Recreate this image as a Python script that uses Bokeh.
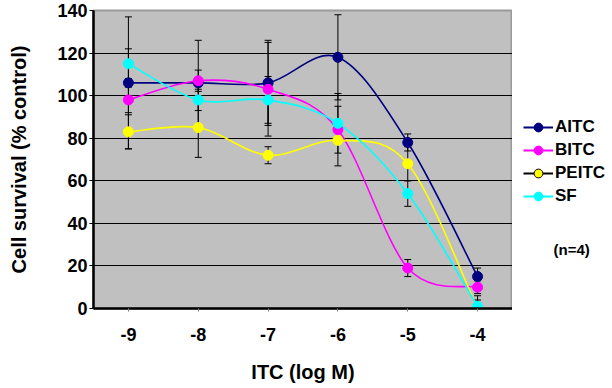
import numpy as np
from bokeh.plotting import figure
from bokeh.layouts import row
from bokeh.models import Legend, LegendItem, Label, FixedTicker, ColumnDataSource
from bokeh.embed import file_html
from bokeh.resources import INLINE

# ---- data ----
log_conc = [-9, -8, -7, -6, -5, -4]
tick_labels = ["-9", "-8", "-7", "-6", "-5", "-4"]
y_ticks = [0, 20, 40, 60, 80, 100, 120, 140]

aitc = [106, 106, 106, 118, 78, 15]
aitc_err = [31, 20, 20, 20, 4, 4]
bitc = [98, 107, 103, 84, 19, 10]
bitc_err = [6, 5, 22, 17, 4, 3]
peitc = [83, 85, 72, 79, 68, 0]
peitc_err = [8, 14, 4, 6, 8, 4]
sf = [115, 98, 98, 87, 54, 1]
sf_err = [7, 5, 11, 8, 6, 5]

series = [
    ("AITC", aitc, aitc_err, "#000080"),
    ("BITC", bitc, bitc_err, "#FF00FF"),
    ("PEITC", peitc, peitc_err, "#FFFF00"),
    ("SF", sf, sf_err, "#00FFFF"),
]
note = "(n=4)"

FONT = "Liberation Sans"

p = figure(width=512, height=388, x_range=(-9.5, -3.5), y_range=(0, 140),
           output_backend="svg", toolbar_location=None,
           min_border_left=93, min_border_right=0, min_border_top=10, min_border_bottom=80,
           background_fill_color="#C0C0C0", border_fill_color="white")

p.outline_line_color = "#9A9A9A"
p.outline_line_width = 2

p.xgrid.visible = False
p.ygrid.ticker = FixedTicker(ticks=y_ticks)
p.ygrid.grid_line_color = "black"
p.ygrid.grid_line_width = 1

p.xaxis.ticker = FixedTicker(ticks=log_conc)
p.xaxis.major_label_overrides = {v: t for v, t in zip(log_conc, tick_labels)}
p.yaxis.ticker = FixedTicker(ticks=y_ticks)

for ax in (p.xaxis[0], p.yaxis[0]):
    ax.axis_line_color = "black"
    ax.axis_line_width = 2.5
    ax.minor_tick_line_color = None
    ax.major_tick_in = 0
    ax.major_label_text_font = FONT
    ax.major_label_text_font_style = "bold"
    ax.major_label_text_font_size = "18px"
    ax.major_label_text_color = "black"
    ax.axis_label_text_font = FONT
    ax.axis_label_text_font_style = "bold"
    ax.axis_label_text_font_size = "20px"
    ax.axis_label_text_color = "black"

p.xaxis.major_tick_out = 3
p.xaxis.major_tick_line_color = "#808080"
p.xaxis.major_label_standoff = 16
p.xaxis.axis_label = "ITC (log M)"
p.xaxis.axis_label_standoff = 17

p.yaxis.major_tick_out = 4
p.yaxis.major_tick_line_color = "black"
p.yaxis.major_label_standoff = 2
p.yaxis.axis_label = "Cell survival (% control)"
p.yaxis.axis_label_standoff = 24


def bezier_source(xs, ys):
    x = np.array(xs, dtype=float)
    y = np.array(ys, dtype=float)
    xp = np.concatenate([[x[0]], x, [x[-1]]])
    yp = np.concatenate([[y[0]], y, [y[-1]]])
    n = len(x)
    d = {"x0": [], "y0": [], "x1": [], "y1": [], "cx0": [], "cy0": [], "cx1": [], "cy1": []}
    for i in range(n - 1):
        p0x, p0y = xp[i], yp[i]
        p1x, p1y = xp[i + 1], yp[i + 1]
        p2x, p2y = xp[i + 2], yp[i + 2]
        p3x, p3y = xp[i + 3], yp[i + 3]
        d["x0"].append(p1x); d["y0"].append(p1y)
        d["x1"].append(p2x); d["y1"].append(p2y)
        d["cx0"].append(p1x + (p2x - p0x) / 6); d["cy0"].append(p1y + (p2y - p0y) / 6)
        d["cx1"].append(p2x - (p3x - p1x) / 6); d["cy1"].append(p2y - (p3y - p1y) / 6)
    return ColumnDataSource(d)


# error bars
for name, vals, errs, col in series:
    lo = [v - e for v, e in zip(vals, errs)]
    hi = [v + e for v, e in zip(vals, errs)]
    p.segment(x0=log_conc, y0=lo, x1=log_conc, y1=hi, line_color="black", line_width=1)
    p.scatter(x=log_conc + log_conc, y=lo + hi, marker="dash", size=7,
              line_color="black", line_width=1)

# smoothed lines
for name, vals, errs, col in series:
    p.bezier(x0="x0", y0="y0", x1="x1", y1="y1", cx0="cx0", cy0="cy0", cx1="cx1", cy1="cy1",
             source=bezier_source(log_conc, vals), line_color=col, line_width=1.6)

# markers
for name, vals, errs, col in series:
    p.scatter(x=log_conc, y=vals, size=10, fill_color=col, line_color=col)

# ---- side panel with legend and note (its frame is aligned with the main frame) ----
q = figure(width=100, height=388, x_range=(0, 100), y_range=(80, 378),
           output_backend="svg", toolbar_location=None,
           min_border_left=0, min_border_right=0, min_border_top=10, min_border_bottom=80,
           background_fill_color="white", border_fill_color="white")
q.outline_line_color = None
q.axis.visible = False
q.grid.visible = False

nan = float("nan")
items = []
for name, vals, errs, col in series:
    lc = "black" if name == "PEITC" else col
    mc = "black" if name == "PEITC" else col
    r1 = q.line(x=[nan, nan], y=[nan, nan], line_color=lc, line_width=2)
    r2 = q.scatter(x=[nan], y=[nan], size=9, fill_color=col, line_color=mc)
    items.append(LegendItem(label=name, renderers=[r1, r2]))

legend = Legend(items=items, location=(11, 101), orientation="vertical",
                background_fill_alpha=0, border_line_color=None,
                padding=0, margin=0, spacing=1,
                glyph_width=30, glyph_height=22, label_height=22, label_standoff=2,
                label_text_font=FONT, label_text_font_style="bold",
                label_text_font_size="17px", label_text_color="black")
q.add_layout(legend, "center")

q.add_layout(Label(x=41, y=139, text=note, text_font=FONT, text_font_style="bold",
                   text_font_size="15px", text_baseline="middle", text_align="left",
                   text_color="black"))

layout = row(p, q, spacing=0)
open("out.html", "w").write(file_html(layout, INLINE))
